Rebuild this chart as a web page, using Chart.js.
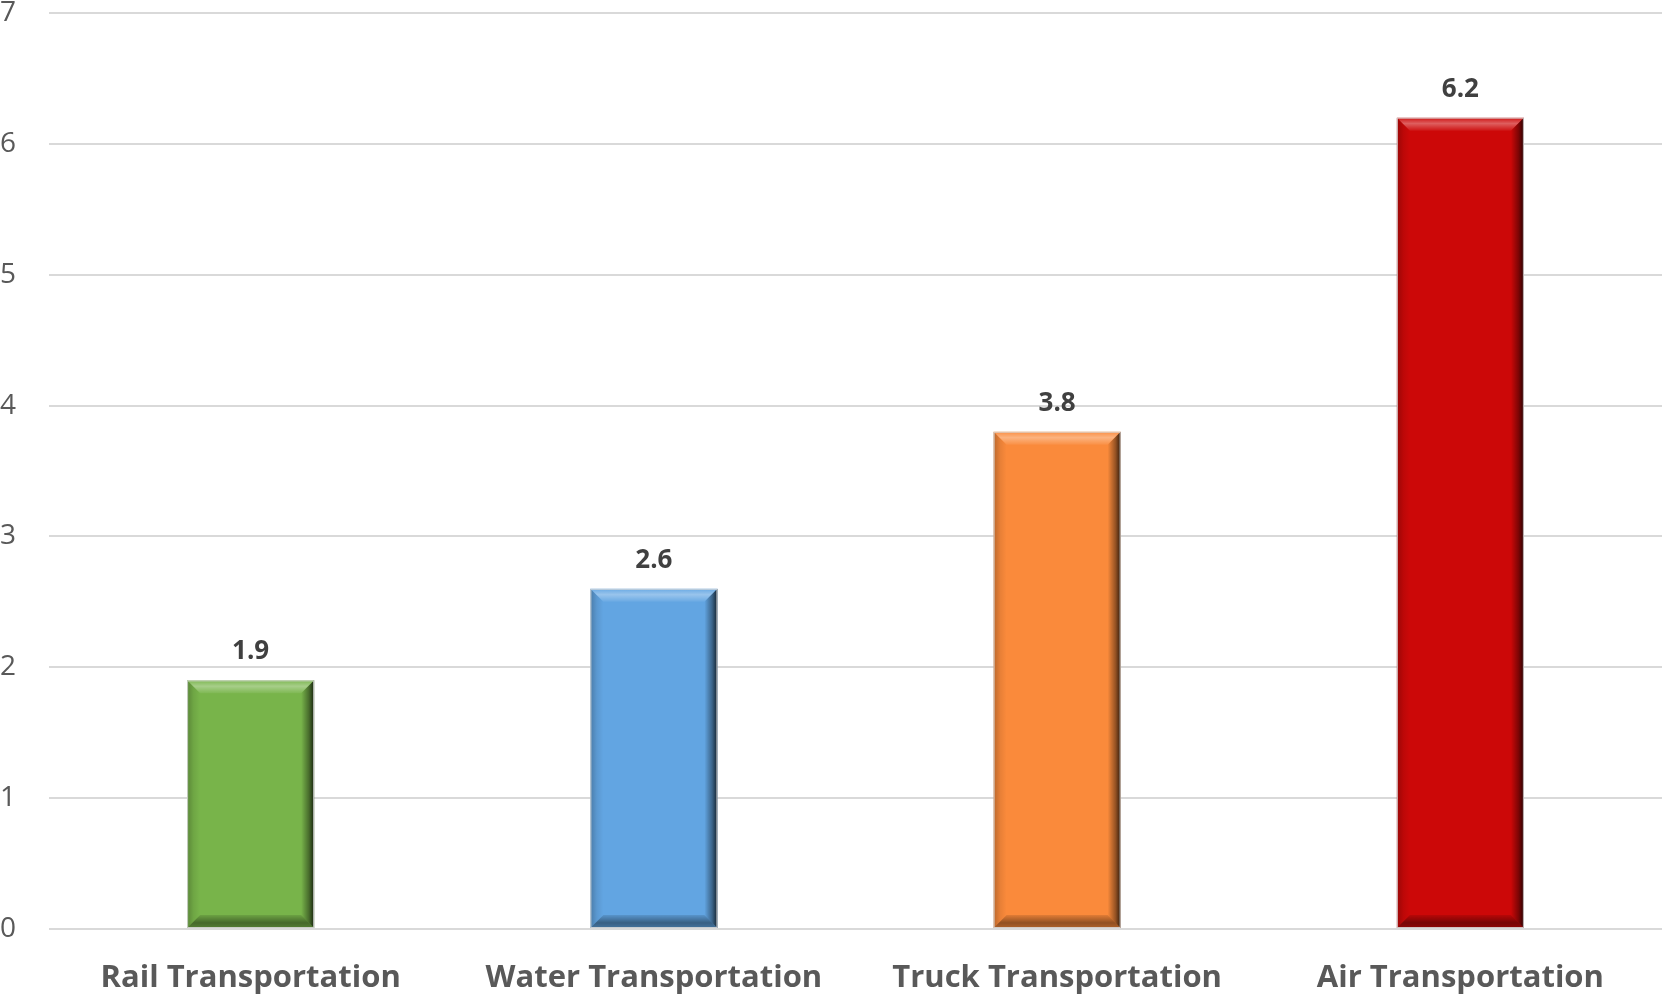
<!DOCTYPE html>
<html>
<head>
<meta charset="utf-8">
<script src="https://cdn.jsdelivr.net/npm/chart.js@4.4.1/dist/chart.umd.min.js"></script>
<style>
  html, body { margin: 0; padding: 0; background: #ffffff; }
  #wrap { width: 1662px; height: 995px; }
</style>
</head>
<body>
<div id="wrap"><canvas id="chart" width="1662" height="995"></canvas></div>
<script>
// Transportation modes and their values
const categories = ['Rail Transportation', 'Water Transportation', 'Truck Transportation', 'Air Transportation'];
const values = [1.9, 2.6, 3.8, 6.2];
const barColors = ['#78b44a', '#62a5e2', '#fa8a3b', '#cc0808'];
const yTicks = [0, 1, 2, 3, 4, 5, 6, 7];

// Beveled edge shading drawn over each bar
const bevelPlugin = {
  id: 'bevel',
  afterDatasetsDraw(chart) {
    const ctx = chart.ctx;
    const meta = chart.getDatasetMeta(0);
    meta.data.forEach((bar) => {
      const p = bar.getProps(['x', 'y', 'base', 'width'], true);
      const l = p.x - p.width / 2, r = p.x + p.width / 2;
      const t = Math.min(p.y, p.base), b = Math.max(p.y, p.base);
      const e = 13;
      ctx.save();
      // top
      let g = ctx.createLinearGradient(0, t, 0, t + e);
      g.addColorStop(0, 'rgba(255,255,255,0.05)');
      g.addColorStop(0.45, 'rgba(255,255,255,0.35)');
      g.addColorStop(1, 'rgba(255,255,255,0.05)');
      ctx.fillStyle = g;
      ctx.beginPath();
      ctx.moveTo(l, t); ctx.lineTo(r, t); ctx.lineTo(r - e, t + e); ctx.lineTo(l + e, t + e); ctx.closePath();
      ctx.fill();
      // bottom
      g = ctx.createLinearGradient(0, b - e, 0, b);
      g.addColorStop(0, 'rgba(0,0,0,0.1)');
      g.addColorStop(0.6, 'rgba(0,0,0,0.42)');
      g.addColorStop(1, 'rgba(0,0,0,0.3)');
      ctx.fillStyle = g;
      ctx.beginPath();
      ctx.moveTo(l, b); ctx.lineTo(r, b); ctx.lineTo(r - e, b - e); ctx.lineTo(l + e, b - e); ctx.closePath();
      ctx.fill();
      // right
      g = ctx.createLinearGradient(r - e, 0, r, 0);
      g.addColorStop(0, 'rgba(0,0,0,0.0)');
      g.addColorStop(0.6, 'rgba(0,0,0,0.4)');
      g.addColorStop(1, 'rgba(0,0,0,0.8)');
      ctx.fillStyle = g;
      ctx.beginPath();
      ctx.moveTo(r, t); ctx.lineTo(r, b); ctx.lineTo(r - e, b - e); ctx.lineTo(r - e, t + e); ctx.closePath();
      ctx.fill();
      // left
      g = ctx.createLinearGradient(l, 0, l + e, 0);
      g.addColorStop(0, 'rgba(0,0,0,0.25)');
      g.addColorStop(0.5, 'rgba(0,0,0,0.08)');
      g.addColorStop(1, 'rgba(0,0,0,0.0)');
      ctx.fillStyle = g;
      ctx.beginPath();
      ctx.moveTo(l, t); ctx.lineTo(l, b); ctx.lineTo(l + e, b - e); ctx.lineTo(l + e, t + e); ctx.closePath();
      ctx.fill();
      // thin outline
      ctx.strokeStyle = 'rgba(215,215,215,0.9)';
      ctx.lineWidth = 1;
      ctx.strokeRect(l + 0.5, t + 0.5, r - l - 1, b - t - 1);
      ctx.restore();
    });
  }
};

// Value labels above bars
const valueLabelPlugin = {
  id: 'valueLabels',
  afterDatasetsDraw(chart) {
    const ctx = chart.ctx;
    const ds = chart.data.datasets[0];
    chart.getDatasetMeta(0).data.forEach((bar, i) => {
      ctx.save();
      ctx.font = 'bold 26px "Open Sans"';
      ctx.fillStyle = '#404040';
      ctx.textAlign = 'center';
      ctx.textBaseline = 'alphabetic';
      ctx.fillText(ds.data[i].toFixed(1), bar.x, bar.y - 21);
      ctx.restore();
    });
  }
};

new Chart(document.getElementById('chart'), {
  type: 'bar',
  data: {
    labels: categories,
    datasets: [{
      data: values,
      backgroundColor: barColors,
      borderWidth: 0,
      barPercentage: 0.315,
      categoryPercentage: 1.0
    }]
  },
  options: {
    responsive: false,
    animation: false,
    devicePixelRatio: 1,
    layout: { padding: { top: 13, right: 0, left: 0, bottom: 0 } },
    plugins: { legend: { display: false }, tooltip: { enabled: false } },
    scales: {
      x: {
        grid: { display: false },
        border: { display: false },
        ticks: {
          color: '#595959',
          font: { family: 'Open Sans', size: 31, weight: 'bold' },
          padding: 23,
          maxRotation: 0
        },
        afterFit(scale) { scale.height = 66; }
      },
      y: {
        min: 0,
        max: 7,
        afterBuildTicks(scale) { scale.ticks = yTicks.map(v => ({ value: v })); },
        grid: { color: '#d9d9d9', lineWidth: 2, drawTicks: false },
        border: { display: false },
        ticks: {
          color: '#595959',
          font: { family: 'Open Sans', size: 28, lineHeight: 0.9 },
          crossAlign: 'far',
          padding: 0
        },
        afterFit(scale) { scale.width = 49; }
      }
    }
  },
  plugins: [bevelPlugin, valueLabelPlugin]
});
</script>
</body>
</html>
